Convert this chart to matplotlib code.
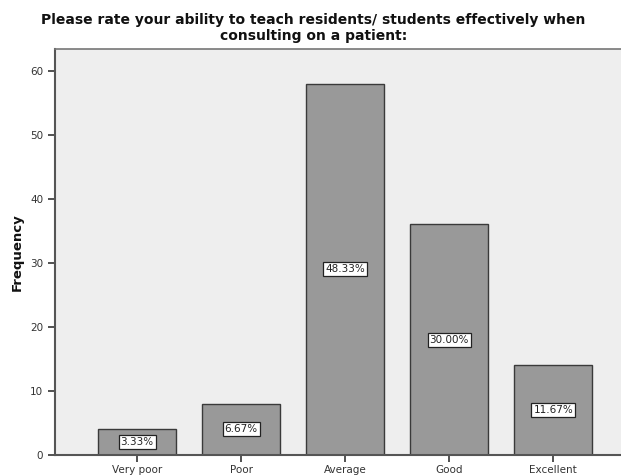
import matplotlib.pyplot as plt

# 评分分布数据
categories = ['Very poor', 'Poor', 'Average', 'Good', 'Excellent']
counts = [4, 8, 58, 36, 14]
percent_labels = ['3.33%', '6.67%', '48.33%', '30.00%', '11.67%']

plt.rcParams['font.family'] = ['DejaVu Sans']

fig = plt.figure(figsize=(6.21, 4.75), dpi=100)
ax = fig.add_axes([55 / 621, 20 / 475, 566 / 621, 406 / 475])
ax.set_facecolor('#eeeeee')

x = range(len(categories))
ax.bar(x, counts, width=0.75, color='#999999', edgecolor='#3a3a3a', linewidth=1.0, zorder=2)

for i, (c, lab) in enumerate(zip(counts, percent_labels)):
    ax.text(i, c / 2, lab, ha='center', va='center', fontsize=7.5, color='#222222', zorder=3,
            bbox=dict(boxstyle='square,pad=0.2', facecolor='white', edgecolor='#222222', linewidth=0.9))

ax.set_xlim(-0.79, 4.65)
ax.set_ylim(0, 63.4)
ax.set_yticks([0, 10, 20, 30, 40, 50, 60])
ax.set_xticks(list(x))
ax.set_xticklabels(categories)
ax.tick_params(axis='both', direction='out', length=5, width=1.2, colors='#333333',
               labelsize=7.5, labelcolor='#333333')
ax.tick_params(axis='x', pad=2)

for s in ['left', 'bottom']:
    ax.spines[s].set_color('#555555')
    ax.spines[s].set_linewidth(1.5)
ax.spines['top'].set_color('#777777')
ax.spines['top'].set_linewidth(1.2)
ax.spines['right'].set_visible(False)

ax.set_ylabel('Frequency', fontsize=9.5, fontweight='bold', color='#111111', labelpad=4.5)

fig.text(0.505, 0.941, 'Please rate your ability to teach residents/ students effectively when\nconsulting on a patient:',
         ha='center', va='center', fontsize=10, fontweight='bold', linespacing=1.1, color='#111111')

fig.savefig('out.png', dpi=100)
